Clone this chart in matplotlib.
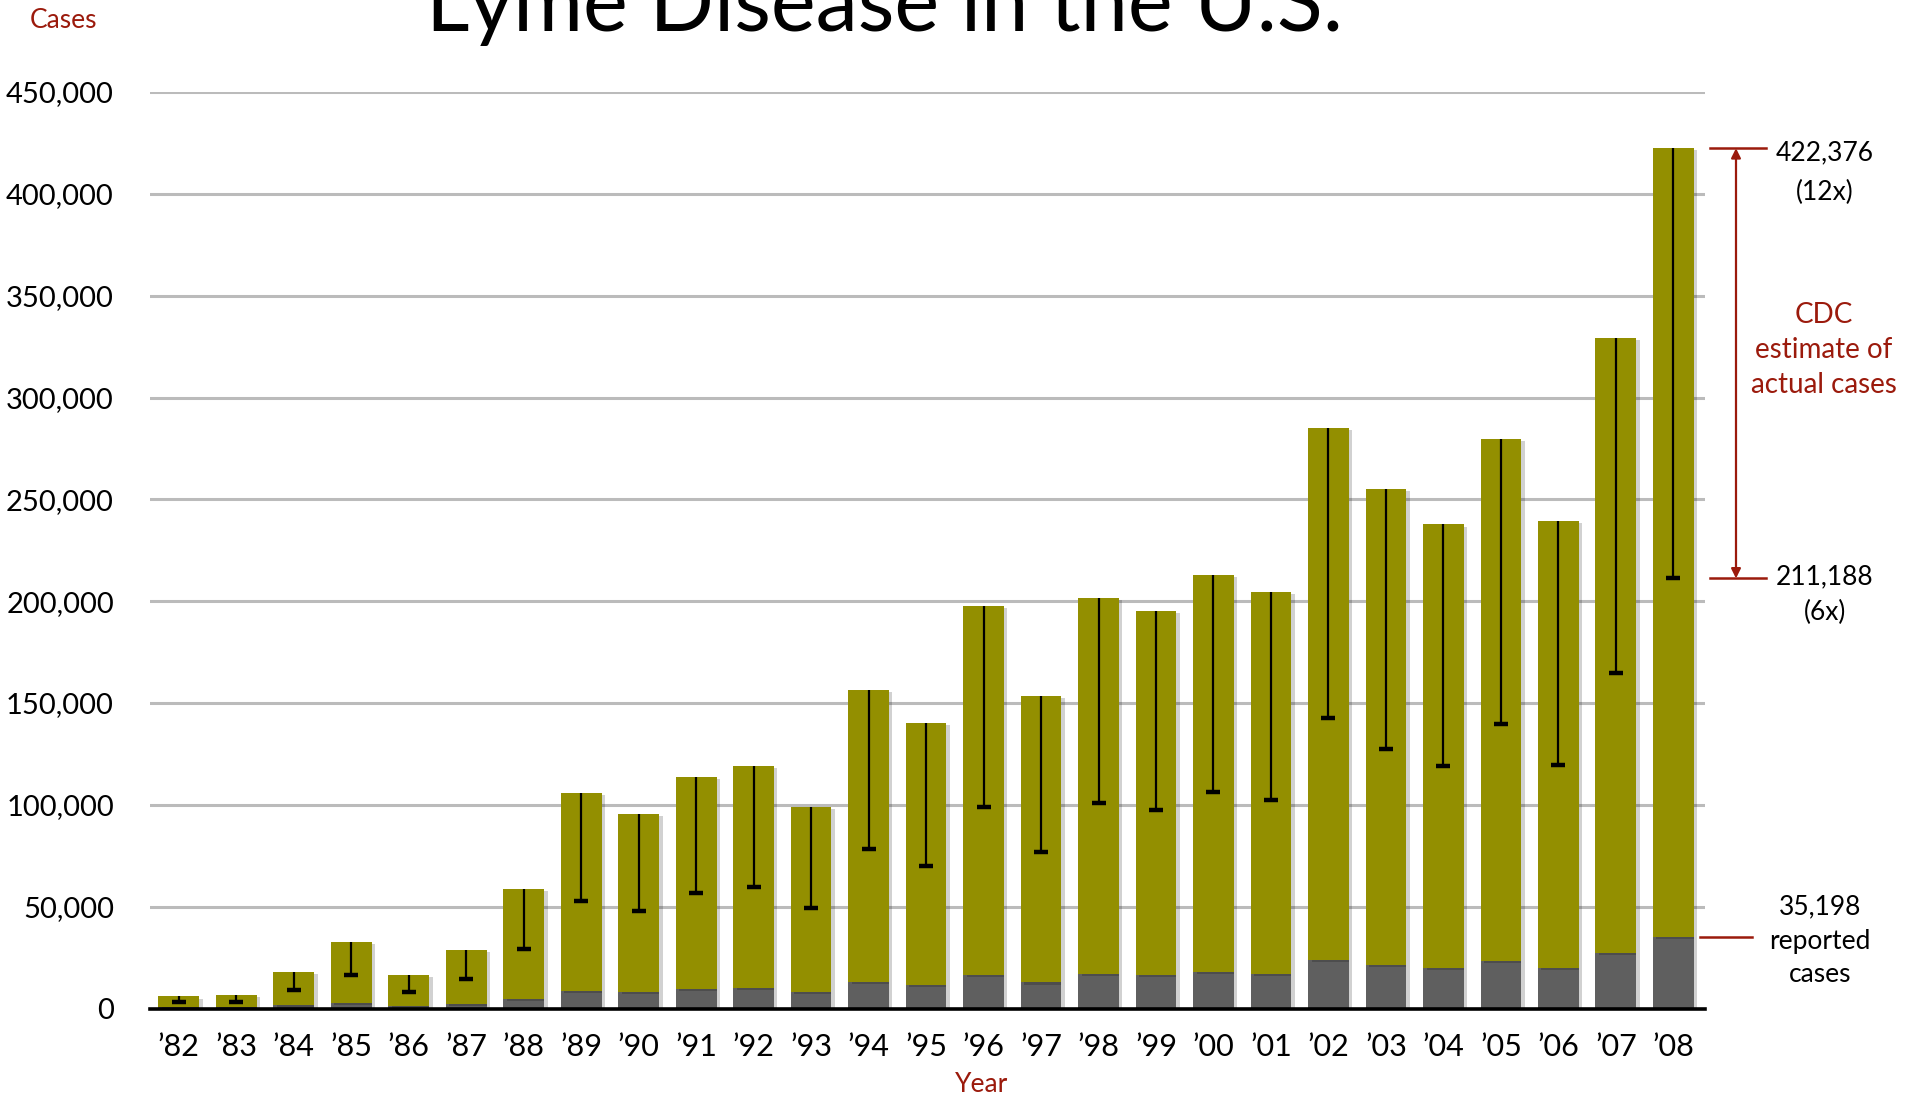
import numpy as np
import matplotlib.pyplot as plt
import matplotlib.transforms as mtransforms
import matplotlib.patheffects as pe

# ── Data ─────────────────────────────────────────────────────────
YEARS = ["’82", "’83", "’84", "’85", "’86", "’87", "’88", "’89", "’90",
         "’91", "’92", "’93", "’94", "’95", "’96", "’97", "’98", "’99",
         "’00", "’01", "’02", "’03", "’04", "’05", "’06", "’07", "’08"]
REPORTED = [491, 572, 1511, 2737, 1372, 2381, 4892, 8803, 7943,
            9470, 9908, 8257, 13043, 11700, 16455, 12801, 16801, 16273,
            17730, 17029, 23763, 21273, 19804, 23305, 19931, 27444, 35198]
LOW_FACTOR = 6     # CDC estimate: 6x to 12x reported
HIGH_FACTOR = 12
Y_TICKS = [0, 50000, 100000, 150000, 200000, 250000, 300000, 350000, 400000, 450000]

# ── Style ────────────────────────────────────────────────────────
OLIVE = "#938f00"
GRAY = "#5f5f5f"
RED = "#9b1a0c"
plt.rcParams["font.family"] = ["Lato", "DejaVu Sans"]

reported = np.array(REPORTED)
high = reported * HIGH_FACTOR
low = reported * LOW_FACTOR
x = np.arange(len(YEARS))

fig = plt.figure(figsize=(19.16, 10.98), dpi=100)
ax = fig.add_axes([150 / 1916, 89.5 / 1098, 1555 / 1916, 916.5 / 1098])

shadow = [pe.SimplePatchShadow(offset=(2.5, -1.5), alpha=0.18, shadow_rgbFace="k"), pe.Normal()]
ax.bar(x, reported, width=0.71, color=GRAY, zorder=3, path_effects=shadow)
ax.bar(x, high - reported, bottom=reported, width=0.71, color=OLIVE, zorder=3,
       path_effects=shadow)

# error range (6x .. 12x), cap only at the low end
ax.vlines(x, low, high, color="black", linewidth=1.6, zorder=4)
ax.plot(x, low, linestyle="none", marker="_", markersize=10, markeredgewidth=3.2,
        color="black", zorder=4)

ax.set_xlim(-0.5, 26.55)
ax.set_ylim(0, 450000)
ax.set_yticks(Y_TICKS)
ax.set_yticklabels([f"{v:,}" for v in Y_TICKS], fontsize=21)
ax.set_xticks(x)
ax.set_xticklabels(YEARS, fontsize=22)
ax.tick_params(axis="both", length=0)
ax.tick_params(axis="y", pad=26)
ax.tick_params(axis="x", pad=18)
ax.grid(axis="y", color="#bbbbbb", linewidth=2.2, zorder=0)
ax.set_axisbelow(True)
for side in ["top", "right", "left"]:
    ax.spines[side].set_visible(False)
ax.spines["bottom"].set_linewidth(2.6)
ax.spines["bottom"].set_zorder(5)

# ── Titles and axis labels ───────────────────────────────────────
fig.text(884 / 1916, 1 - 31 / 1098, "Lyme Disease in the U.S.", fontsize=61,
         ha="center", va="baseline")
fig.text(64 / 1916, 1 - 21 / 1098, "Cases", fontsize=19, color=RED,
         ha="center", va="center")
fig.text(982 / 1916, 1 - 1085 / 1098, "Year", fontsize=19, color=RED,
         ha="center", va="center")

# ── Right-side annotations ───────────────────────────────────────
trans = mtransforms.blended_transform_factory(fig.transFigure, ax.transData)
top_val, bot_val, rep_val = high[-1], low[-1], reported[-1]

for v in (top_val, bot_val):
    ax.plot([1710 / 1916, 1766 / 1916], [v, v], color=RED, linewidth=1.8,
            transform=trans, clip_on=False)
ax.annotate("", xy=(1736 / 1916, top_val), xytext=(1736 / 1916, bot_val),
            xycoords=trans, textcoords=trans,
            arrowprops=dict(arrowstyle="<|-|>", color=RED, lw=1.6,
                            mutation_scale=14, shrinkA=0, shrinkB=0))
ax.plot([1700 / 1916, 1752 / 1916], [rep_val, rep_val], color=RED, linewidth=1.8,
        transform=trans, clip_on=False)

fig.text(1825 / 1916, 1 - 153 / 1098, f"{top_val:,}", fontsize=19, ha="center", va="center")
fig.text(1825 / 1916, 1 - 192 / 1098, f"({HIGH_FACTOR}x)", fontsize=19, ha="center", va="center")
fig.text(1825 / 1916, 1 - 577 / 1098, f"{bot_val:,}", fontsize=19, ha="center", va="center")
fig.text(1825 / 1916, 1 - 612 / 1098, f"({LOW_FACTOR}x)", fontsize=19, ha="center", va="center")
fig.text(1824 / 1916, 1 - 350 / 1098, "CDC\nestimate of\nactual cases", fontsize=20,
         color=RED, ha="center", va="center", linespacing=1.45)
fig.text(1820 / 1916, 1 - 941 / 1098, f"{rep_val:,}\nreported\ncases", fontsize=19,
         ha="center", va="center", linespacing=1.45)

fig.savefig("out.png", dpi=100)
